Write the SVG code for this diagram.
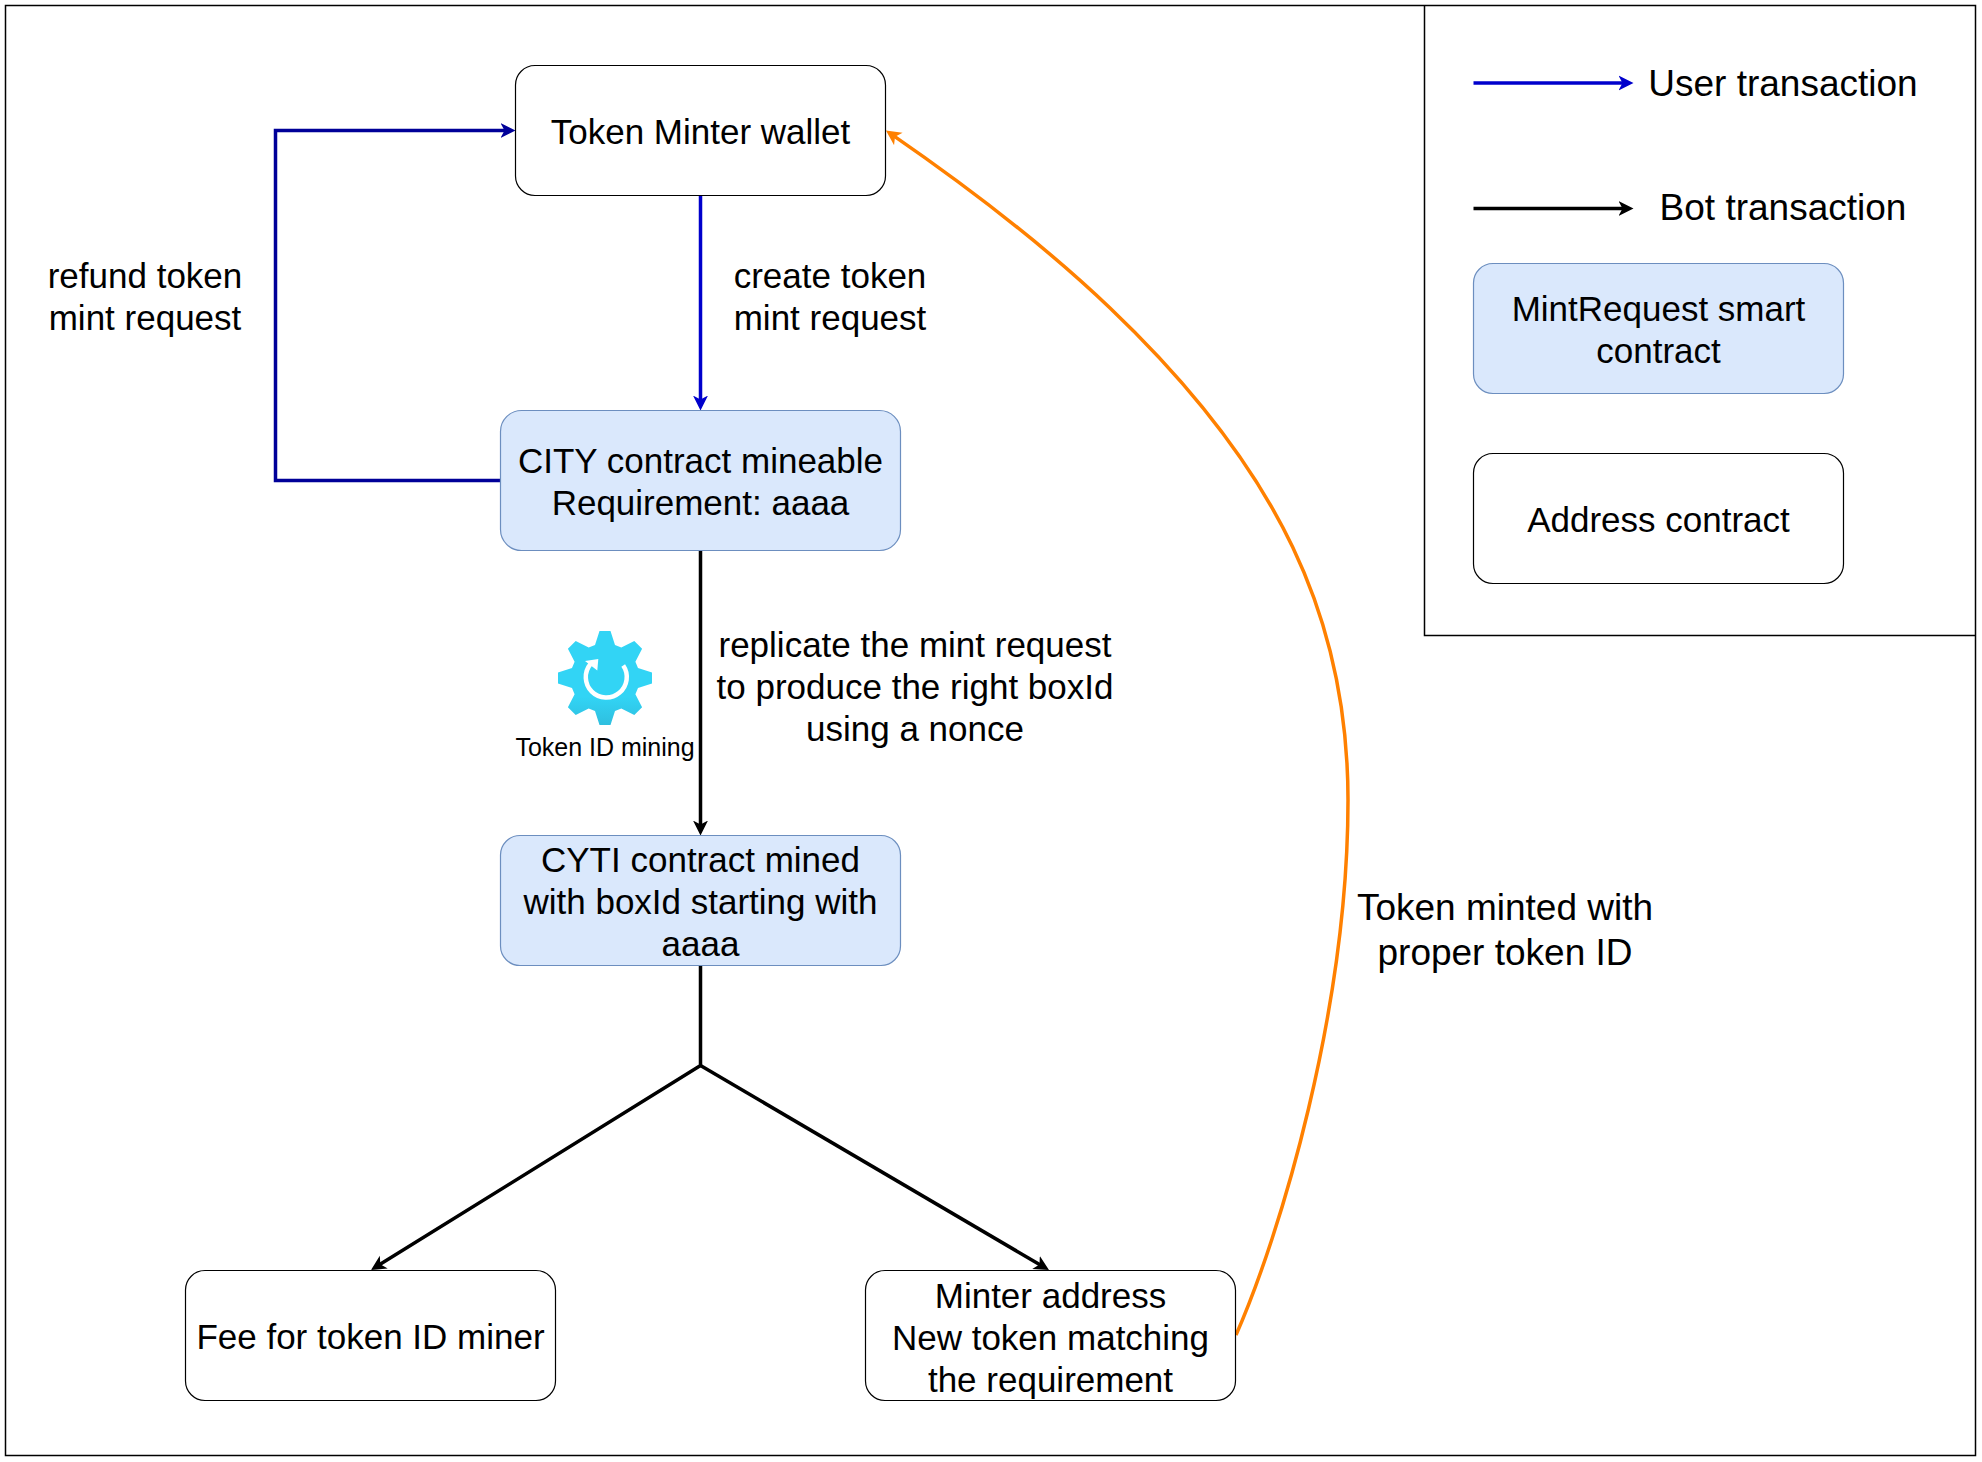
<svg xmlns="http://www.w3.org/2000/svg" width="1982" height="1462" viewBox="0 0 1982 1462">
<style>
text{font-family:"Liberation Sans",Arial,sans-serif;font-size:35px;fill:#000;text-anchor:middle}
text.big{font-size:37px}
.plain{fill:#fff;stroke:#000;stroke-width:1.2}
.blue{fill:#dae8fc;stroke:#6c8ebf;stroke-width:1.2}
.c{fill:none;stroke-width:3.5}
.frame{fill:none;stroke:#000;stroke-width:1.5}
</style>
<defs>
<marker id="aBlue" markerUnits="userSpaceOnUse" markerWidth="16" markerHeight="16" refX="9" refY="8" orient="auto"><path d="M0 .5L15 8L0 15.5L4 8Z" fill="#00c"/></marker>
<marker id="aNavy" markerUnits="userSpaceOnUse" markerWidth="16" markerHeight="16" refX="9" refY="8" orient="auto"><path d="M0 .5L15 8L0 15.5L4 8Z" fill="#009"/></marker>
<marker id="aBlack" markerUnits="userSpaceOnUse" markerWidth="16" markerHeight="16" refX="9" refY="8" orient="auto"><path d="M0 .5L15 8L0 15.5L4 8Z" fill="#000"/></marker>
<marker id="aOrange" markerUnits="userSpaceOnUse" markerWidth="16" markerHeight="16" refX="9" refY="8" orient="auto"><path d="M0 .5L15 8L0 15.5L4 8Z" fill="#ff8000"/></marker>
<linearGradient id="gear" x1="0" y1="0" x2="0" y2="1"><stop offset="0" stop-color="#32d4f5"/><stop offset=".7" stop-color="#32d4f5"/><stop offset="1" stop-color="#2fbfdf"/></linearGradient>
</defs>
<rect width="1982" height="1462" fill="#fff"/>
<g id="frame">
<rect class="frame" x="5.5" y="5.5" width="1970" height="1450"/>
<path class="frame" d="M1424.5 5.5V635.5H1975.5"/>
</g>
<g id="connectors">
<path class="c" stroke="#00c" d="M700.5 195.5V404.5" marker-end="url(#aBlue)"/>
<path class="c" stroke="#009" d="M500 480.5H275.5V130.5H509.5" marker-end="url(#aNavy)"/>
<path class="c" stroke="#000" d="M700.5 550.5V829.5" marker-end="url(#aBlack)"/>
<path class="c" stroke="#000" d="M700.5 965.5V1065.5L376.1 1266.8" marker-end="url(#aBlack)"/>
<path class="c" stroke="#000" d="M700.5 1065.5L1043.8 1267" marker-end="url(#aBlack)"/>
<path class="c" stroke="#ff8000" stroke-width="3" d="M1236 1335C1280 1235 1348 1010 1348 800C1348 620 1280 470 1110 308C1040 241 965 185 890.9 133.9" marker-end="url(#aOrange)"/>
<path class="c" stroke="#00c" d="M1473.5 83H1627.5" marker-end="url(#aBlue)"/>
<path class="c" stroke="#000" d="M1473.5 208.5H1627.5" marker-end="url(#aBlack)"/>
</g>
<g id="wallet"><rect class="plain" x="515.5" y="65.5" width="370" height="130" rx="19.5"/><text x="700.5" y="144">Token Minter wallet</text></g>
<g id="city"><rect class="blue" x="500.5" y="410.5" width="400" height="140" rx="21"/><text x="700.5" y="472.5">CITY contract mineable</text><text x="700.5" y="514.5">Requirement: aaaa</text></g>
<g id="cyti"><rect class="blue" x="500.5" y="835.5" width="400" height="130" rx="19.5"/><text x="700.5" y="872">CYTI contract mined</text><text x="700.5" y="914">with boxId starting with</text><text x="700.5" y="956">aaaa</text></g>
<g id="fee"><rect class="plain" x="185.5" y="1270.5" width="370" height="130" rx="19.5"/><text x="370.5" y="1349">Fee for token ID miner</text></g>
<g id="minter"><rect class="plain" x="865.5" y="1270.5" width="370" height="130" rx="19.5"/><text x="1050.5" y="1307.5">Minter address</text><text x="1050.5" y="1349.5">New token matching</text><text x="1050.5" y="1391.5">the requirement</text></g>
<g id="mining">
<polygon fill="url(#gear)" points="599.5,631 610.5,631 615,645 621.3,647.6 634.3,640.9 642.1,648.7 635.4,661.7 638,668 652,672.5 652,683.5 638,688 635.4,694.3 642.1,707.3 634.3,715.1 621.3,708.4 615,711 610.5,725 599.5,725 595,711 588.7,708.4 575.7,715.1 567.9,707.3 574.6,694.3 572,688 558,683.5 558,672.5 572,668 574.6,661.7 567.9,648.7 575.7,640.9 588.7,647.6 595,645"/>
<path d="M623.2 665.5A20.5 20.5 0 1 1 590.5 664" fill="none" stroke="#fff" stroke-width="4.5"/>
<polygon fill="#fff" points="585,661 598.3,659 597.3,670.5"/>
<text x="605" y="756" style="font-size:25px">Token ID mining</text>
</g>
<g id="labels">
<text x="145" y="288">refund token</text><text x="145" y="330">mint request</text>
<text x="830" y="288">create token</text><text x="830" y="330">mint request</text>
<text x="915" y="657">replicate the mint request</text><text x="915" y="699">to produce the right boxId</text><text x="915" y="741">using a nonce</text>
<text class="big" x="1505" y="920">Token minted with</text><text class="big" x="1505" y="965">proper token ID</text>
</g>
<g id="legend">
<text class="big" x="1783" y="96">User transaction</text>
<text class="big" x="1783" y="220">Bot transaction</text>
<rect class="blue" x="1473.5" y="263.5" width="370" height="130" rx="19.5"/><text x="1658.5" y="321">MintRequest smart</text><text x="1658.5" y="363">contract</text>
<rect class="plain" x="1473.5" y="453.5" width="370" height="130" rx="19.5"/><text x="1658.5" y="532">Address contract</text>
</g>
</svg>
